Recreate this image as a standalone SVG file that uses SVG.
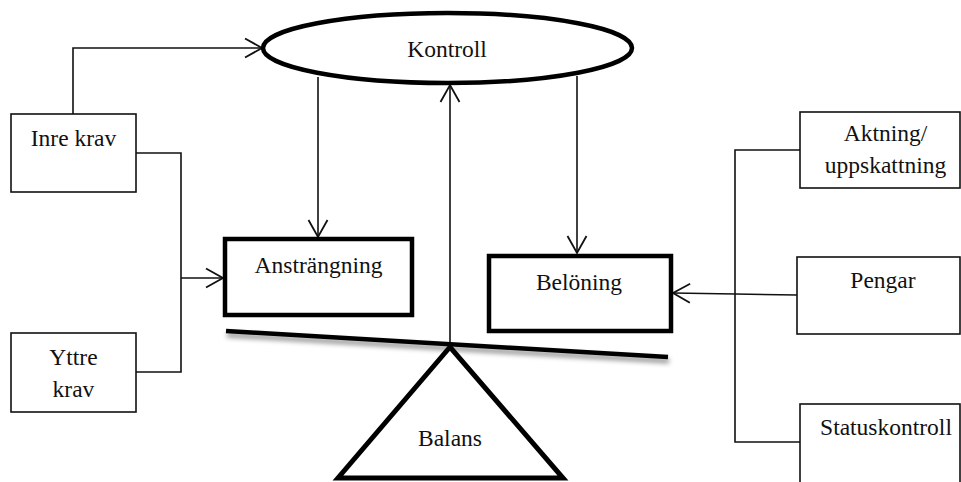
<svg xmlns="http://www.w3.org/2000/svg" width="961" height="482" viewBox="0 0 961 482">
<defs>
<style>
text{font-family:"Liberation Serif","Times New Roman",serif;font-size:23.5px;fill:#111;text-anchor:middle}
.thin{fill:#fff;stroke:#111;stroke-width:1.6}
.thick{fill:#fff;stroke:#000;stroke-width:4.5}
.con{fill:none;stroke:#111;stroke-width:1.6}
</style>
<marker id="arr" markerUnits="userSpaceOnUse" markerWidth="24" markerHeight="24" viewBox="-20 -12 24 24" refX="0" refY="0" orient="auto">
<path d="M-17,-9.5 L0,0 L-17,9.5" fill="none" stroke="#111" stroke-width="1.8"/>
</marker>
<filter id="sh" x="-5%" y="-100%" width="110%" height="400%">
<feDropShadow dx="1" dy="4" stdDeviation="2.5" flood-color="#000" flood-opacity="0.45"/>
</filter>
</defs>
<g id="connectors">
<polyline class="con" points="73,114 73,48 262,48" marker-end="url(#arr)"/>
<polyline class="con" points="136,153 181,153 181,372 136,372"/>
<line class="con" x1="181" y1="278" x2="223" y2="278" marker-end="url(#arr)"/>
<line class="con" x1="318" y1="77" x2="318" y2="237" marker-end="url(#arr)"/>
<line class="con" x1="577" y1="76" x2="577" y2="253" marker-end="url(#arr)"/>
<line class="con" x1="450" y1="343" x2="450" y2="85" marker-end="url(#arr)"/>
<polyline class="con" points="800,150 735,150 735,442 800,442"/>
<line class="con" x1="797" y1="295" x2="735" y2="294"/>
<line class="con" x1="735" y1="294" x2="673" y2="293" marker-end="url(#arr)"/>
</g>
<g id="kontroll">
<ellipse cx="447.5" cy="48" rx="184.5" ry="35" fill="#fff" stroke="#000" stroke-width="4.5"/>
<text x="447" y="57">Kontroll</text>
</g>
<g id="inre-krav">
<rect class="thin" x="11" y="114" width="125" height="78"/>
<text x="73.5" y="146">Inre krav</text>
</g>
<g id="yttre-krav">
<rect class="thin" x="11" y="333" width="125" height="79"/>
<text x="73.5" y="365">Yttre</text>
<text x="73.5" y="397">krav</text>
</g>
<g id="anstrangning">
<rect class="thick" x="225" y="239" width="187" height="76"/>
<text x="318.5" y="273">Ansträngning</text>
</g>
<g id="beloning">
<rect class="thick" x="489" y="256" width="182" height="75"/>
<text x="579" y="290">Belöning</text>
</g>
<g id="aktning">
<rect class="thin" x="800" y="112" width="160" height="76"/>
<text x="885.5" y="141">Aktning/</text>
<text x="885.5" y="173">uppskattning</text>
</g>
<g id="pengar">
<rect class="thin" x="797" y="257" width="163" height="77"/>
<text x="883" y="288">Pengar</text>
</g>
<g id="statuskontroll">
<rect class="thin" x="800" y="404" width="160" height="80"/>
<text x="886" y="435">Statuskontroll</text>
</g>
<g id="balans">
<line x1="226" y1="331" x2="668" y2="357" stroke="#000" stroke-width="4.5" filter="url(#sh)"/>
<polygon points="450,347 338,478 563,478" fill="#fff" stroke="#000" stroke-width="5" stroke-linejoin="miter"/>
<text x="450" y="446">Balans</text>
</g>
</svg>
